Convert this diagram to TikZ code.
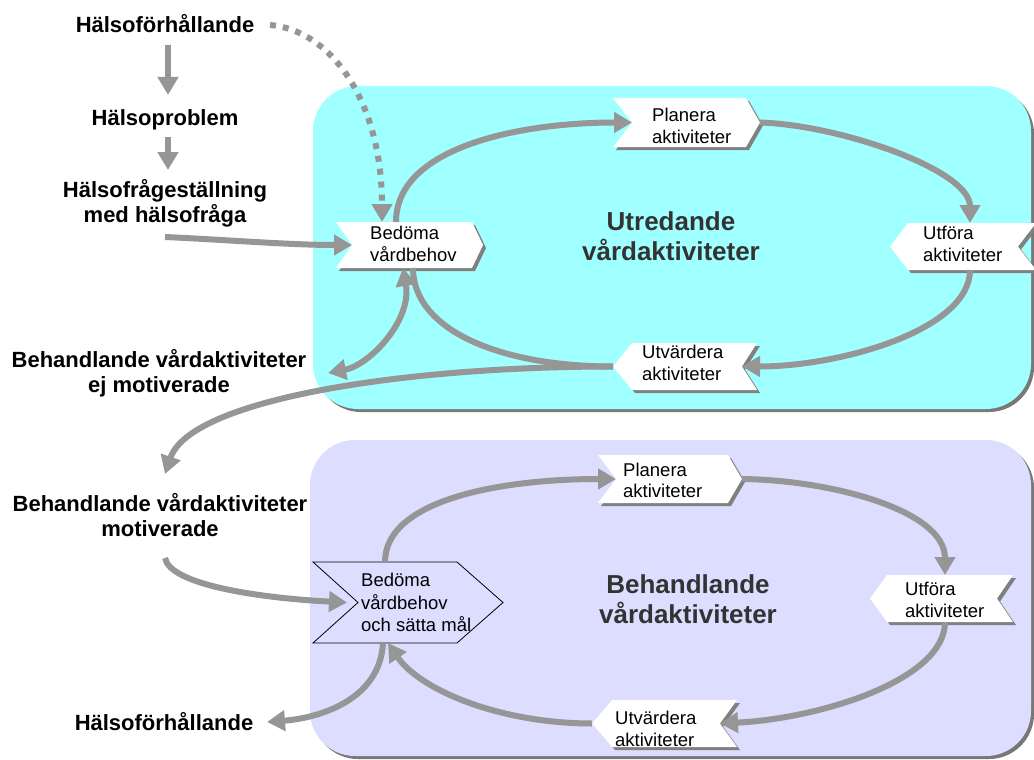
\documentclass[tikz,border=0pt]{standalone}
\usepackage{fontspec}
\setmainfont{Liberation Sans}
\usetikzlibrary{arrows.meta}

\definecolor{panelcyan}{RGB}{160,255,255}
\definecolor{panellav}{RGB}{221,221,255}
\definecolor{panelshade}{RGB}{120,120,120}
\definecolor{flowgray}{RGB}{150,150,150}
\definecolor{chevshadecol}{RGB}{128,128,128}
\definecolor{headline}{RGB}{51,51,51}

\tikzset{
  tipshape/.tip={Triangle[length=18pt,width=20pt]},
  flow/.style={draw=flowgray, line width=6pt, -tipshape},
  flowline/.style={draw=flowgray, line width=6pt},
  flowboth/.style={draw=flowgray, line width=6pt, tipshape-tipshape},
  dotflow/.style={flow, dash pattern=on 6pt off 7pt},
  chevbox/.style={rectangle, inner sep=0pt, outer sep=0pt},
  chevtext/.style={inner sep=0pt, anchor=base west, align=left,
    font=\fontsize{18.5}{21.5}\selectfont},
  lefttext/.style={inner sep=0pt, anchor=base, align=center,
    font=\bfseries\fontsize{22}{25}\selectfont},
  headtext/.style={inner sep=0pt, anchor=base, align=center, text=headline,
    font=\bfseries\fontsize{26}{30}\selectfont},
}

% Chevron pointing east, notch on the west side.
% #1 name, #2 x1, #3 y1, #4 x2, #5 y2, #6 notch depth, #7 tip depth
\newcommand\chevEast[7]{%
  \fill[chevshadecol, shift={(3,3)}] (#2,#3) -- (#4,#3) -- ({#4+#7},{(#3+#5)/2})
    -- (#4,#5) -- (#2,#5) -- ({#2+#6},{(#3+#5)/2}) -- cycle;
  \fill[white] (#2,#3) -- (#4,#3) -- ({#4+#7},{(#3+#5)/2})
    -- (#4,#5) -- (#2,#5) -- ({#2+#6},{(#3+#5)/2}) -- cycle;
  \node[chevbox, minimum width={(#4-#2)*1pt}, minimum height={(#5-#3)*1pt}]
    (#1) at ({(#2+#4)/2},{(#3+#5)/2}) {};
}
% Chevron pointing west, notch on the east side.
% #1 name, #2 x1, #3 y1, #4 x2, #5 y2, #6 tip depth, #7 notch depth
\newcommand\chevWest[7]{%
  \fill[chevshadecol, shift={(3,3)}] (#2,#3) -- (#4,#3) -- ({#4-#7},{(#3+#5)/2})
    -- (#4,#5) -- (#2,#5) -- ({#2-#6},{(#3+#5)/2}) -- cycle;
  \fill[white] (#2,#3) -- (#4,#3) -- ({#4-#7},{(#3+#5)/2})
    -- (#4,#5) -- (#2,#5) -- ({#2-#6},{(#3+#5)/2}) -- cycle;
  \node[chevbox, minimum width={(#4-#2)*1pt}, minimum height={(#5-#3)*1pt}]
    (#1) at ({(#2+#4)/2},{(#3+#5)/2}) {};
}

\begin{document}
\begin{tikzpicture}[x=1pt, y=-1pt]
\useasboundingbox (0,0) rectangle (1034,760);
\clip (0,0) rectangle (1034,760);

% panels
\fill[panelshade, rounded corners=45pt] (316,89) rectangle (1034,412);
\fill[panelcyan, rounded corners=45pt] (313,86) rectangle (1031,409);
\fill[panelshade, rounded corners=45pt] (313,443) rectangle (1034,759);
\fill[panellav, rounded corners=45pt] (310,440) rectangle (1031,756);

% upper cycle boxes
\chevEast{bed1}{336}{222}{472}{268}{16}{11}
\chevEast{pla1}{613}{98}{746}{147}{19}{14}
\chevWest{utf1}{908}{223}{1036}{270}{18}{18}
\chevWest{utv1}{632}{343}{757}{390}{19}{15}

% lower cycle boxes
\chevEast{pla2}{598}{455}{728}{503}{18}{14}
\chevWest{utf2}{887}{575}{1013}{622}{17}{16}
\chevWest{utv2}{612}{700}{737}{747}{20}{17}
\draw[black, line width=0.8pt] (313,562) -- (457,562) -- (503,602.5) -- (457,643)
  -- (313,643) -- (358,602.5) -- cycle;
\node[chevbox, minimum width=144pt, minimum height=81pt] (bed2) at (385,602.5) {};

% box texts (anchored at the baseline of their last line)
\node[chevtext] (bed1t) at (370,261) {Bedöma\\vårdbehov};
\node[chevtext] (pla1t) at (652,143.3) {Planera\\aktiviteter};
\node[chevtext] (utf1t) at (923,261) {Utföra\\aktiviteter};
\node[chevtext] (utv1t) at (642,380) {Utvärdera\\aktiviteter};
\node[chevtext] (pla2t) at (623,497.5) {Planera\\aktiviteter};
\node[chevtext] (utf2t) at (905,617) {Utföra\\aktiviteter};
\node[chevtext] (utv2t) at (615,746) {Utvärdera\\aktiviteter};
\node[chevtext, font=\fontsize{18.5}{22.5}\selectfont] (bed2t) at (361,631.7)
  {Bedöma\\vårdbehov\\och sätta mål};

% panel headings
\node[headtext] (utr) at (671,260) {Utredande\\vårdaktiviteter};
\node[headtext] (beh) at (688,623) {Behandlande\\vårdaktiviteter};

% left column
\node[lefttext] (hf1) at (165,33) {Hälsoförhållande};
\node[lefttext] (hp) at (165,125) {Hälsoproblem};
\node[lefttext] (hfs) at (165,222) {Hälsofrågeställning\\med hälsofråga};
\node[lefttext] (bej) at (159,392) {Behandlande vårdaktiviteter\\ej motiverade};
\node[lefttext] (bmo) at (160,536) {Behandlande vårdaktiviteter\\motiverade};
\node[lefttext] (hf2) at (164,730) {Hälsoförhållande};

% left column arrows
\draw[flow] ([shift={(3,12)}]hf1.base) -- ([shift={(3,-30)}]hp.base);
\draw[flow] ([shift={(3,12)}]hp.base) -- ([shift={(3,-52)}]hfs.base);
\draw[dotflow] ([shift={(105,-8)}]hf1.base)
  .. controls ([shift={(165,-3)}]hf1.base) and ([shift={(-22,-122)}]bed1.north)
  .. ([xshift=-22]bed1.north);
\draw[flow] ([shift={(0,15)}]hfs.base)
  .. controls ([shift={(65,18)}]hfs.base) and ([shift={(-46,0)}]bed1.west)
  .. ([xshift=16]bed1.west);

% upper cycle
\draw[flow] ([xshift=-8]bed1.north)
  .. controls ([shift={(-8,-75)}]bed1.north) and ([shift={(-93,0)}]pla1.west)
  .. ([xshift=19]pla1.west);
\draw[flow] ([xshift=14]pla1.east)
  .. controls ([shift={(94,2.5)}]pla1.east) and ([shift={(-2,-53)}]utf1.north)
  .. ([xshift=-2]utf1.north);
\draw[flow] ([xshift=-2]utf1.south)
  .. controls ([shift={(-2,60)}]utf1.south) and ([shift={(83,0)}]utv1.east)
  .. ([xshift=-15]utv1.east);
\draw[flowline] ([xshift=-19]utv1.west)
  .. controls ([shift={(-132,0)}]utv1.west) and ([shift={(9,62)}]bed1.south)
  .. ([xshift=9]bed1.south);
\draw[flowboth] ([xshift=-1]bed1.south)
  .. controls ([shift={(8,52)}]bed1.south) and ([shift={(211,-27)}]bej.base)
  .. ([shift={(169,-19)}]bej.base);
\draw[flow] ([xshift=-19]utv1.west)
  .. controls ([shift={(-232,0)}]utv1.west) and ([shift={(30,-136)}]bmo.base)
  .. ([shift={(5,-62)}]bmo.base);

% lower cycle
\draw[flow] ([shift={(5,22)}]bmo.base)
  .. controls ([shift={(10,49)}]bmo.base) and ([shift={(-53,-4.5)}]bed2.west)
  .. ([xshift=34]bed2.west);
\draw[flow] (bed2.north)
  .. controls ([shift={(0,-62)}]bed2.north) and ([shift={(-98,0)}]pla2.west)
  .. ([xshift=18]pla2.west);
\draw[flow] ([xshift=14]pla2.east)
  .. controls ([shift={(102,1)}]pla2.east) and ([shift={(-5,-65)}]utf2.north)
  .. ([xshift=-5]utf2.north);
\draw[flow] ([xshift=-5]utf2.south)
  .. controls ([shift={(-5,58)}]utf2.south) and ([shift={(83,-5)}]utv2.east)
  .. ([xshift=-17]utv2.east);
\draw[flow] ([xshift=-20]utv2.west)
  .. controls ([shift={(-112,0)}]utv2.west) and ([shift={(35,47)}]bed2.south)
  .. ([xshift=3]bed2.south);
\draw[flow] ([xshift=-2]bed2.south)
  .. controls ([shift={(-5,57)}]bed2.south) and ([shift={(155,-12)}]hf2.base)
  .. ([shift={(103,-8)}]hf2.base);
\end{tikzpicture}
\end{document}
